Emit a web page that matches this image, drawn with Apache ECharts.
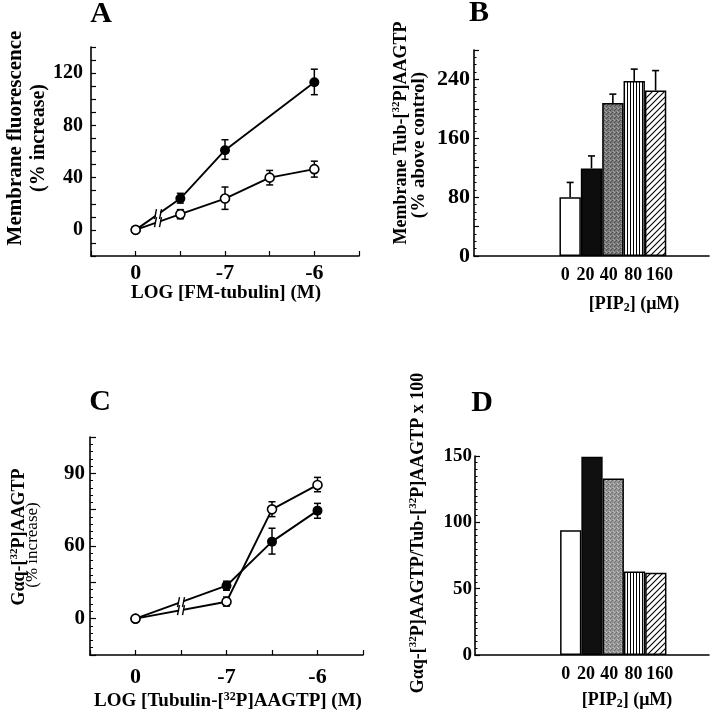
<!DOCTYPE html>
<html><head><meta charset="utf-8">
<script src="https://cdn.jsdelivr.net/npm/echarts@6/dist/echarts.min.js"></script>
<style>html,body{margin:0;padding:0;background:#fff}#c{width:714px;height:720px}</style>
</head><body><div id="c"></div>
<script>
// ---------- Panel A : LOG [FM-tubulin] vs membrane fluorescence ----------
const aXTickPos = [0, 2, 4];
const aXTickText = ['0', '-7', '-6'];
const aYTickLabels = [0, 40, 80, 120];
const aFilled = [[0, 0], [1, 24], [2, 61], [4, 113]];
const aFilledErr = [[1, 20.5, 28], [2, 54, 69], [4, 103.5, 123]];
const aOpen = [[0, 0], [1, 12], [2, 24], [3, 40], [4, 46.5]];
const aOpenErr = [[1, 8.5, 15.5], [2, 15.7, 32.8], [3, 34.4, 45.5], [4, 40.4, 52.6]];

// ---------- Panel B : PIP2 vs membrane Tub-[32P]AAGTP ----------
const bLabels = ['0', '20', '40', '80', '160'];
const bValues = [80, 119, 208, 238, 225];
const bErrTop = [100, 136, 220, 254, 252];
const bYTickLabels = [0, 80, 160, 240];

// ---------- Panel C : LOG [Tubulin-[32P]AAGTP] vs Gaq-[32P]AAGTP ----------
const cXTickPos = [0, 2, 4];
const cXTickText = ['0', '-7', '-6'];
const cYTickPos = [0, 45, 90];
const cYTickText = ['0', '60', '90'];
const cFilled = [[0, 0], [2, 20.4], [3, 47.7], [4, 66.9]];
const cFilledErr = [[2, 17.6, 23.2], [3, 40, 56], [4, 62.2, 71.4]];
const cOpen = [[0, 0], [2, 10.5], [3, 67.7], [4, 82.8]];
const cOpenErr = [[2, 7.8, 13.4], [3, 63.2, 72.4], [4, 78.6, 87.5]];

// ---------- Panel D : PIP2 vs ratio x 100 ----------
const dLabels = ['0', '20', '40', '80', '160'];
const dValues = [94, 149.5, 133, 63, 62];

const FONT = '"Liberation Serif","Times New Roman",serif';

function pattern(w, h, draw) {
  const c = document.createElement('canvas');
  c.width = w; c.height = h;
  const g = c.getContext('2d');
  g.fillStyle = '#fff'; g.fillRect(0, 0, w, h);
  draw(g, w, h);
  return { image: c, repeat: 'repeat' };
}
function stipple(base, dark, light) {
  return pattern(4, 4, (g) => {
    g.fillStyle = base; g.fillRect(0, 0, 4, 4);
    g.fillStyle = dark; g.fillRect(0, 0, 1, 1); g.fillRect(2, 2, 1, 1); g.fillRect(3, 1, 1, 1);
    g.fillStyle = light; g.fillRect(1, 3, 1, 1); g.fillRect(2, 0, 1, 1);
  });
}
const vStripe = pattern(3, 4, (g, w, h) => { g.fillStyle = '#000'; g.fillRect(0, 0, 1, h); });
const diag = pattern(6, 6, (g) => {
  g.strokeStyle = '#000'; g.lineWidth = 1.1;
  g.beginPath();
  g.moveTo(0, 6); g.lineTo(6, 0);
  g.moveTo(-3, 3); g.lineTo(3, -3);
  g.moveTo(3, 9); g.lineTo(9, 3);
  g.stroke();
});
const bFills = ['#fff', '#0d0d0d', stipple('#7b7b7b', '#4e4e4e', '#a5a5a5'), vStripe, diag];
const dFills = ['#fff', '#101010', stipple('#989898', '#6e6e6e', '#bdbdbd'), vStripe, diag];

const lineAxis = { show: true, onZero: false, lineStyle: { color: '#000', width: 1.6 } };
const tickIn = (len) => ({ show: true, inside: true, length: len, lineStyle: { color: '#000', width: 1.2 } });
const lbl = (size, margin, fmt) => ({ show: true, color: '#000', fontFamily: FONT, fontWeight: 'bold', fontSize: size, margin: margin, formatter: fmt });
const pick = (pos, text) => (v) => { const i = pos.findIndex(p => Math.abs(p - v) < 1e-6); return i >= 0 ? text[i] : ''; };
const LEAD = 4, TRAIL = 2;
const padCats = (labels) => {
  const out = [];
  for (let i = 0; i < LEAD; i++) out.push(' '.repeat(i + 1));
  labels.forEach(l => out.push(l));
  for (let i = 0; i < TRAIL; i++) out.push(' '.repeat(LEAD + i + 1));
  return out;
};
// small horizontal nudges (px) of the category labels, as in the original figure
const labelShift = [-5, -6, -4, -1, 4];
function catLabel(size, margin) {
  const rich = {};
  labelShift.forEach((s, i) => {
    rich['k' + i] = { fontFamily: FONT, fontWeight: 'bold', fontSize: size, color: '#000',
      padding: s < 0 ? [0, -2 * s, 0, 0] : [0, 0, 0, 2 * s] };
  });
  return { show: true, interval: 0, margin: margin, color: '#000', fontFamily: FONT, fontWeight: 'bold', fontSize: size,
    formatter: (v, idx) => { const k = idx - LEAD; return (k >= 0 && k < labelShift.length) ? '{k' + k + '|' + v + '}' : ''; },
    rich: rich };
}

function errRender(cap) {
  return function (params, api) {
    const x = api.value(0), lo = api.value(1), hi = api.value(2);
    const p1 = api.coord([x, lo]), p2 = api.coord([x, hi]);
    const st = { stroke: '#000', lineWidth: 1.5 };
    return { type: 'group', children: [
      { type: 'line', shape: { x1: p1[0], y1: p1[1], x2: p2[0], y2: p2[1] }, style: st },
      { type: 'line', shape: { x1: p1[0] - cap, y1: p1[1], x2: p1[0] + cap, y2: p1[1] }, style: st },
      { type: 'line', shape: { x1: p2[0] - cap, y1: p2[1], x2: p2[0] + cap, y2: p2[1] }, style: st }
    ] };
  };
}
function barErrRender(params, api) {
  const x = api.value(0), lo = api.value(1), hi = api.value(2);
  const p1 = api.coord([x, lo]), p2 = api.coord([x, hi]);
  const st = { stroke: '#000', lineWidth: 1.6 };
  return { type: 'group', children: [
    { type: 'line', shape: { x1: p1[0], y1: p1[1], x2: p2[0], y2: p2[1] }, style: st },
    { type: 'line', shape: { x1: p2[0] - 3.5, y1: p2[1], x2: p2[0] + 3.5, y2: p2[1] }, style: st }
  ] };
}
function breakRender(params, api) {
  const p = api.coord([api.value(0), api.value(1)]);
  const st = { stroke: '#000', lineWidth: 1.4 };
  return { type: 'group', children: [
    { type: 'rect', shape: { x: p[0] - 2, y: p[1] - 3, width: 4, height: 6 }, style: { fill: '#fff' } },
    { type: 'line', shape: { x1: p[0] - 3.5, y1: p[1] + 5, x2: p[0] - 1.5, y2: p[1] - 5 }, style: st },
    { type: 'line', shape: { x1: p[0] + 1.5, y1: p[1] + 5, x2: p[0] + 3.5, y2: p[1] - 5 }, style: st }
  ] };
}
const mid = (s) => [(s[0][0] + s[1][0]) / 2, (s[0][1] + s[1][1]) / 2];

function lineSeries(idx, data, filled) {
  return {
    type: 'line', xAxisIndex: idx, yAxisIndex: idx, data: data, z: 3,
    symbol: 'circle', symbolSize: filled ? 10 : 9, showSymbol: true,
    lineStyle: { color: '#000', width: 1.9 },
    itemStyle: filled ? { color: '#000' } : { color: '#fff', borderColor: '#000', borderWidth: 1.6 },
    emphasis: { disabled: true }, silent: true
  };
}
function errSeries(idx, data) {
  return { type: 'custom', xAxisIndex: idx, yAxisIndex: idx, data: data, z: 2,
    encode: { x: 0, y: [1, 2] }, renderItem: errRender(3.5), silent: true };
}
function breakSeries(idx, data) {
  return { type: 'custom', xAxisIndex: idx, yAxisIndex: idx, data: data, z: 5,
    encode: { x: 0, y: 1 }, renderItem: breakRender, silent: true };
}

const T = (x, y, text, size, rot, weight, rich) => ({
  type: 'text', x: x, y: y, rotation: rot || 0, silent: true,
  style: { text: text, font: (weight || 'bold') + ' ' + size + 'px ' + FONT, fill: '#000',
    align: 'center', verticalAlign: 'middle', textAlign: 'center', textVerticalAlign: 'middle', rich: rich }
});
const rn = (sz, w) => ({ fontSize: sz, fontWeight: w || 'bold', fontFamily: FONT, lineHeight: sz + 2, verticalAlign: 'middle' });
const rsup = (sz) => ({ fontSize: sz, fontWeight: 'bold', fontFamily: FONT, lineHeight: sz, verticalAlign: 'top' });
const rsub = (sz) => ({ fontSize: sz, fontWeight: 'bold', fontFamily: FONT, lineHeight: sz, verticalAlign: 'bottom', padding: [6, 0, 0, 0] });
const R90 = Math.PI / 2;

const option = {
  animation: false,
  backgroundColor: '#fff',
  grid: [
    { left: 91, top: 47, width: 268, height: 209, outerBoundsMode: 'none' },
    { left: 474, top: 50, width: 235, height: 206, outerBoundsMode: 'none' },
    { left: 90, top: 437, width: 273, height: 218, outerBoundsMode: 'none' },
    { left: 475, top: 456, width: 234, height: 199, outerBoundsMode: 'none' }
  ],
  xAxis: [
    { gridIndex: 0, type: 'value', min: -1, max: 5, interval: 1, axisLine: lineAxis, axisTick: tickIn(5),
      splitLine: { show: false }, axisLabel: lbl(22, 6, pick(aXTickPos, aXTickText)) },
    { gridIndex: 1, type: 'category', data: padCats(bLabels), axisLine: lineAxis, axisTick: { show: false },
      splitLine: { show: false }, axisLabel: catLabel(18, 10) },
    { gridIndex: 2, type: 'value', min: -1, max: 5, interval: 1, axisLine: lineAxis, axisTick: tickIn(5),
      splitLine: { show: false }, axisLabel: lbl(22, 11, pick(cXTickPos, cXTickText)) },
    { gridIndex: 3, type: 'category', data: padCats(dLabels), axisLine: lineAxis, axisTick: { show: false },
      splitLine: { show: false }, axisLabel: catLabel(18, 10) }
  ],
  yAxis: [
    { gridIndex: 0, type: 'value', min: -20, max: 140, interval: 10, axisLine: lineAxis, axisTick: tickIn(5),
      splitLine: { show: false }, axisLabel: lbl(20, 8, (v) => aYTickLabels.includes(v) ? String(v) : '') },
    { gridIndex: 1, type: 'value', min: 0, max: 280, interval: 40, axisLine: lineAxis, axisTick: tickIn(5),
      minorTick: { show: true, splitNumber: 4, length: 2.5, lineStyle: { color: '#000', width: 1 } },
      splitLine: { show: false }, minorSplitLine: { show: false },
      axisLabel: lbl(22, 4, (v) => bYTickLabels.includes(v) ? String(v) : '') },
    { gridIndex: 2, type: 'value', min: -22.5, max: 112.5, interval: 22.5, axisLine: lineAxis, axisTick: tickIn(6),
      minorTick: { show: true, splitNumber: 5, length: 3, lineStyle: { color: '#000', width: 1 } },
      splitLine: { show: false }, minorSplitLine: { show: false },
      axisLabel: lbl(21, 5, pick(cYTickPos, cYTickText)) },
    { gridIndex: 3, type: 'value', min: 0, max: 150, interval: 50, axisLine: lineAxis, axisTick: tickIn(5),
      minorTick: { show: true, splitNumber: 10, length: 2.5, lineStyle: { color: '#000', width: 1 } },
      splitLine: { show: false }, minorSplitLine: { show: false },
      axisLabel: lbl(19, 3) }
  ],
  series: [
    // A
    errSeries(0, aFilledErr), errSeries(0, aOpenErr),
    lineSeries(0, aFilled, true), lineSeries(0, aOpen, false),
    breakSeries(0, [mid(aFilled), mid(aOpen)]),
    // B
    { type: 'bar', xAxisIndex: 1, yAxisIndex: 1, barCategoryGap: '0%', silent: true,
      data: bLabels.map((l, i) => ({ value: [l, bValues[i]], itemStyle: { color: bFills[i], borderColor: '#000', borderWidth: 1.5 } })) },
    { type: 'custom', xAxisIndex: 1, yAxisIndex: 1, z: 4, silent: true, encode: { x: 0, y: [1, 2] },
      data: bLabels.map((l, i) => [l, bValues[i], bErrTop[i]]), renderItem: barErrRender },
    // C
    errSeries(2, cFilledErr), errSeries(2, cOpenErr),
    lineSeries(2, cFilled, true), lineSeries(2, cOpen, false),
    breakSeries(2, [mid(cFilled), mid(cOpen)]),
    // D
    { type: 'bar', xAxisIndex: 3, yAxisIndex: 3, barCategoryGap: '0%', silent: true,
      data: dLabels.map((l, i) => ({ value: [l, dValues[i]], itemStyle: { color: dFills[i], borderColor: '#000', borderWidth: 1.5 } })) }
  ],
  graphic: [
    T(101, 14, 'A', 30), T(479, 13, 'B', 30), T(100, 402, 'C', 30), T(482, 403, 'D', 30),
    // A axis names
    T(16, 138, 'Membrane fluorescence', 21, R90),
    T(39, 138, '(% increase)', 20, R90),
    T(226, 293, 'LOG [FM-tubulin] (M)', 19),
    // B axis names
    T(401, 133, '{n|Membrane Tub-[}{s|32}{n|P]AAGTP}', 18, R90, 'bold', { n: rn(18), s: rsup(11) }),
    T(419, 145, '(% above control)', 19, R90),
    T(634, 304, '{n|[PIP}{s|2}{m|] (μM)}', 18, 0, 'bold', { n: rn(18), s: rsub(12), m: rn(18) }),
    // C axis names
    T(19, 537, '{n|Gαq-[}{s|32}{n|P]AAGTP}', 18, R90, 'bold', { n: rn(18), s: rsup(11) }),
    T(33, 545, '(% increase)', 17, R90, 'normal'),
    T(228, 701, '{n|LOG [Tubulin-[}{s|32}{n|P]AAGTP] (M)}', 19, 0, 'bold', { n: rn(19), s: rsup(12) }),
    // D axis names
    T(418, 533, '{n|Gαq-[}{s|32}{n|P]AAGTP/Tub-[}{s|32}{n|P]AAGTP x 100}', 18, R90, 'bold', { n: rn(18), s: rsup(11) }),
    T(627, 700, '{n|[PIP}{s|2}{m|] (μM)}', 18, 0, 'bold', { n: rn(18), s: rsub(12), m: rn(18) })
  ]
};

const chart = echarts.init(document.getElementById('c'), null, { renderer: 'canvas' });
chart.setOption(option);
</script>
</body></html>
